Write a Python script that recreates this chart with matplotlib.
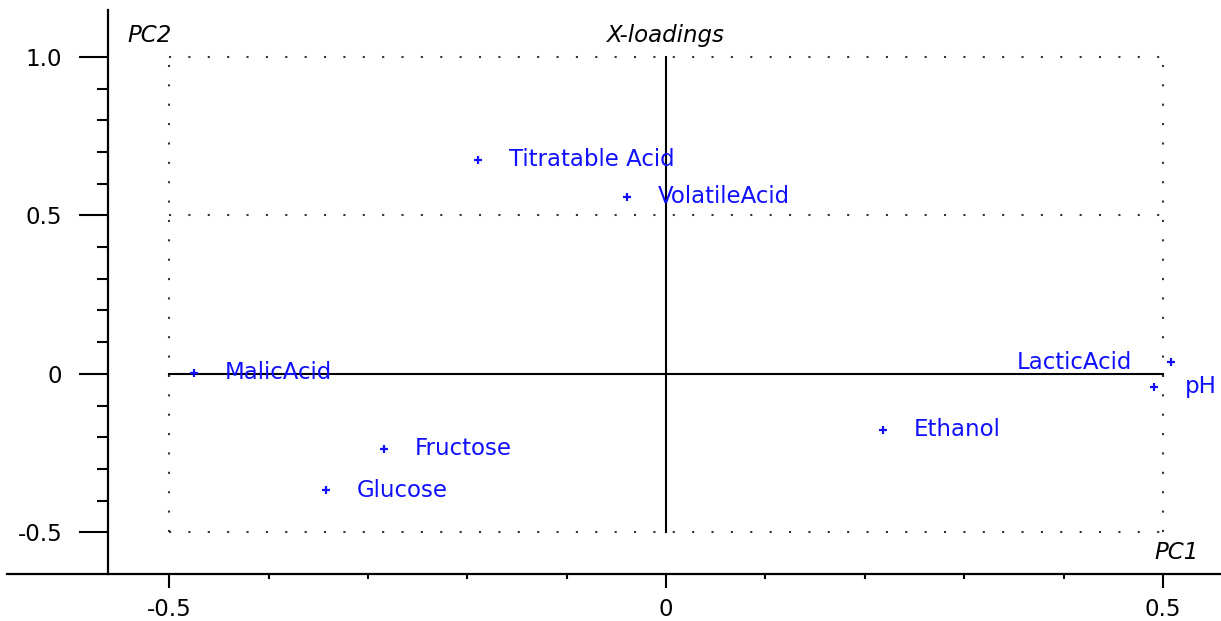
"""
X-loadings plot (PC1 vs PC2) redrawn in matplotlib.
"""

import numpy as np
import matplotlib.pyplot as plt
from matplotlib.ticker import FixedLocator

# ── Data ──────────────────────────────────────────────────────────────────────
variables = ["Titratable Acid", "VolatileAcid", "MalicAcid", "Fructose",
             "Glucose", "Ethanol", "LacticAcid", "pH"]
pc1 = [-0.189, -0.039, -0.475, -0.284, -0.342, 0.218, 0.508, 0.491]
pc2 = [0.675, 0.559, 0.004, -0.237, -0.367, -0.177, 0.037, -0.040]

x_major = [-0.5, 0.0, 0.5]
x_major_labels = ["-0.5", "0", "0.5"]
y_major = [-0.5, 0.0, 0.5, 1.0]
y_major_labels = ["-0.5", "0", "0.5", "1.0"]
x_minor = [-0.4, -0.3, -0.2, -0.1, 0.1, 0.2, 0.3, 0.4]
y_minor = [-0.4, -0.3, -0.2, -0.1, 0.1, 0.2, 0.3, 0.4, 0.6, 0.7, 0.8, 0.9]
x_grid = [-0.5, 0.5]
y_grid = [-0.5, 0.5, 1.0]

BLUE = "#1010ff"
FS = 16.5

# ── Figure ────────────────────────────────────────────────────────────────────
fig = plt.figure(figsize=(12.21, 6.21), dpi=100)
ax = fig.add_axes([7 / 1221, 47 / 621, 1214 / 1221, 564 / 621])
ax.set_xlim(-0.6633, 0.5584)
ax.set_ylim(-0.6316, 1.148)

for s in ("top", "right"):
    ax.spines[s].set_visible(False)
ax.spines["left"].set_position(("data", -0.5617))
ax.spines["left"].set_linewidth(1.6)
ax.spines["bottom"].set_linewidth(1.6)

ax.xaxis.set_major_locator(FixedLocator(x_major))
ax.set_xticklabels(x_major_labels, fontsize=FS)
ax.xaxis.set_minor_locator(FixedLocator(x_minor))
ax.yaxis.set_major_locator(FixedLocator(y_major))
ax.set_yticklabels(y_major_labels, fontsize=FS)
ax.yaxis.set_minor_locator(FixedLocator(y_minor))
ax.tick_params(axis="x", which="major", direction="out", length=10,
               width=1.5, pad=7)
ax.tick_params(axis="x", which="minor", direction="out", length=3.6,
               width=1.5)
ax.tick_params(axis="y", which="major", direction="out", length=21,
               width=1.5, pad=12)
ax.tick_params(axis="y", which="minor", direction="out", length=8,
               width=1.5)

# dotted grid, limited to the data box
dots = dict(color="#333333", lw=1.5, linestyle=(0, (1, 8.3)))
for gx in x_grid:
    ax.plot([gx, gx], [-0.5, 1.0], **dots)
for gy in y_grid:
    ax.plot([-0.5, 0.5], [gy, gy], **dots)

# solid cross-hair through the origin
ax.plot([0, 0], [-0.5, 1.0], color="black", lw=1.5)
ax.plot([-0.5, 0.5], [0, 0], color="black", lw=1.5)

# loadings
ax.plot(pc1, pc2, linestyle="none", marker="+", markersize=6,
        markeredgewidth=1.6, color=BLUE)
for name, x, y in zip(variables, pc1, pc2):
    if name == "LacticAcid":
        off, ha = (-28, 0), "right"
    else:
        off, ha = (22, 0), "left"
    ax.annotate(name, xy=(x, y), xytext=off, textcoords="offset points",
                ha=ha, va="center", fontsize=FS, color=BLUE)

# axis names
ax.text(-0.542, 1.068, "PC2", fontsize=FS, style="italic", ha="left",
        va="center")
ax.text(0.0, 1.068, "X-loadings", fontsize=FS, style="italic",
        ha="center", va="center")
ax.text(0.491, -0.565, "PC1", fontsize=FS, style="italic", ha="left",
        va="center")

fig.savefig("out.png", dpi=100)
